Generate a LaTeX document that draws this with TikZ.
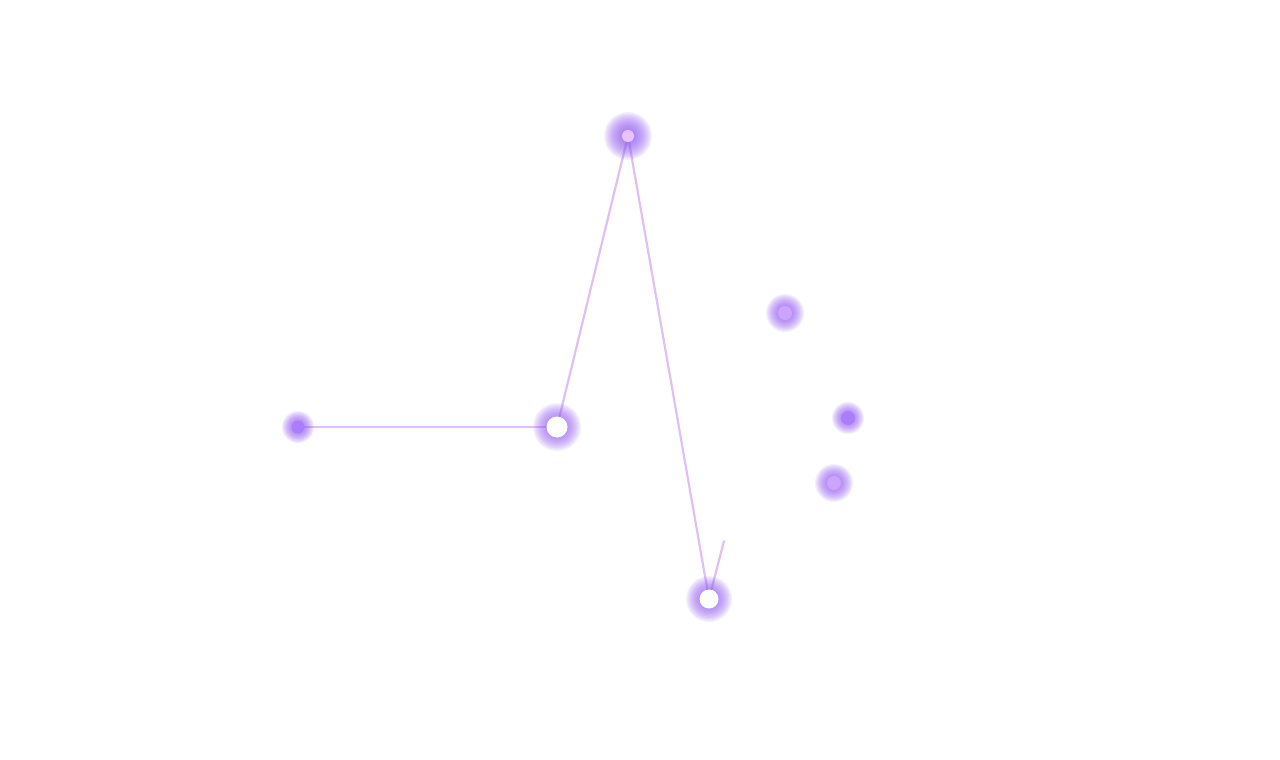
\documentclass[tikz,border=0pt]{standalone}
\usetikzlibrary{positioning,backgrounds}
\definecolor{glowpurple}{RGB}{150,95,240}
\definecolor{linkpurple}{RGB}{222,192,244}
\definecolor{dotpurple}{RGB}{170,125,250}
\definecolor{palepink}{RGB}{232,195,255}
\tikzset{
  glowdot/.style={circle, inner sep=0pt, minimum size=#1, fill=dotpurple},
  whitedot/.style={circle, inner sep=0pt, minimum size=#1, fill=white},
  link/.style={draw=linkpurple, line width=2.2pt, line cap=round},
}
% soft halo: stacked transparent discs round a node
\newcommand\halo[2]{%
  \foreach \k in {0,...,11}
    \fill[glowpurple, opacity=.1] (#1) circle ({#2*(1-\k/17)});
}

\begin{document}
\begin{tikzpicture}[x=1pt,y=-1pt]
\useasboundingbox (0,0) rectangle (1280,760);
\node[glowdot=13pt] (left) at (298,427) {};
\node[whitedot=21pt] (hub) at (557,427) {};
\node[glowdot=12pt, fill=palepink] (peak) at (628,136) {};
\node[whitedot=19pt] (low) at (709,599) {};
\node[glowdot=14pt, fill=palepink!55!dotpurple] (r1) at (785,313) {};
\node[glowdot=14pt] (r2) at (848,418) {};
\node[glowdot=14pt, fill=palepink!55!dotpurple] (r3) at (834,483) {};
\coordinate (tail) at (724,541);

\begin{scope}[on background layer]
\draw[link] (left) -- (hub);
\draw[link] (hub) -- (peak);
\draw[link] (peak) -- (low);
\draw[link] (low) -- (tail);
\halo{left}{16}
\halo{hub}{24}
\halo{peak}{24}
\halo{low}{23}
\halo{r1}{19}
\halo{r2}{16}
\halo{r3}{19}
\end{scope}
\end{tikzpicture}
\end{document}
